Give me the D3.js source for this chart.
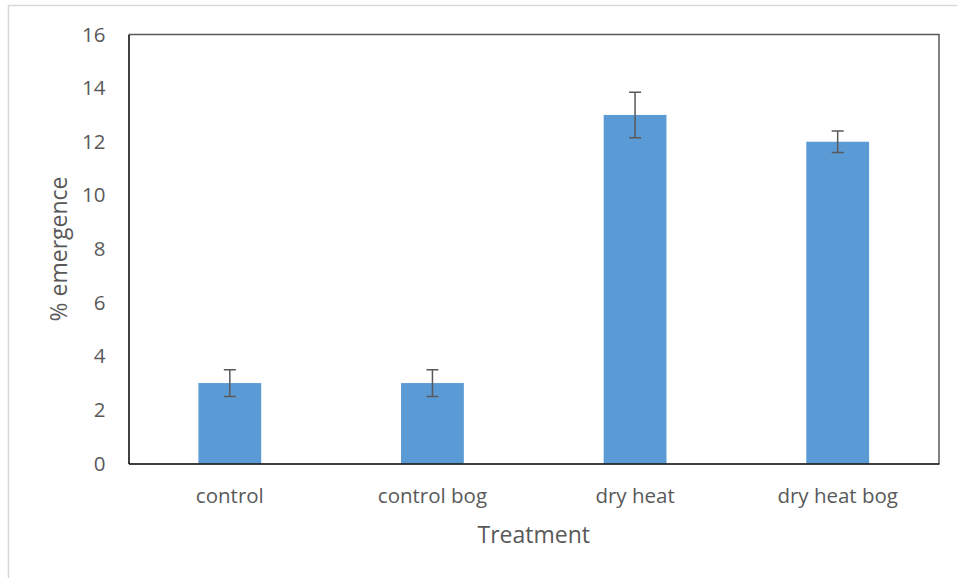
<!DOCTYPE html>
<html>
<head>
<meta charset="utf-8">
<script src="https://cdn.jsdelivr.net/npm/d3@7"></script>
<style>
  body { margin: 0; background: #fff; }
  text { font-family: "Open Sans", sans-serif; fill: #595959; }
</style>
</head>
<body>
<div id="chart"></div>
<script>
/* % emergence by treatment, bars with error bars */

const categories = ["control", "control bog", "dry heat", "dry heat bog"];
const values = [3, 3, 13, 12];
const errors = [0.5, 0.5, 0.85, 0.4];
const yTicks = [0, 2, 4, 6, 8, 10, 12, 14, 16];

const width = 957,
      height = 578,
      margin = ({top: 34.5, right: 18, bottom: 115, left: 128.5});

let svg = d3.select("#chart")
            .append("svg")
            .attr("width", width)
            .attr("height", height);

// outer chart frame
svg.append("rect")
    .attr("x", 8.5).attr("y", 5.5)
    .attr("width", width).attr("height", height)
    .attr("fill", "none")
    .attr("stroke", "#d9d9d9")
    .attr("stroke-width", 1.5);

const x = d3.scaleBand()
            .domain(categories)
            .range([margin.left, width - margin.right])
            .paddingInner(0.69)
            .paddingOuter(0.345);

const y = d3.scaleLinear()
            .domain([0, 16])
            .range([height - margin.bottom + 0.5, margin.top]);

// plot area border (top/right)
svg.append("path")
    .attr("d", `M${margin.left},${margin.top}H${width - margin.right}V${y(0)}`)
    .attr("fill", "none")
    .attr("stroke", "#595959")
    .attr("stroke-width", 1.5);

let bar = svg.selectAll(".bar")
    .data(categories)
    .join("g")
    .attr("class", "bar");

bar.append("rect")
    .attr("fill", "#5b9bd5")
    .attr("x", d => x(d))
    .attr("width", x.bandwidth())
    .attr("y", (d, i) => y(values[i]))
    .attr("height", (d, i) => y(0) - y(values[i]));

// error bars
const cap = 6;
bar.append("path")
    .attr("fill", "none")
    .attr("stroke", "#595959")
    .attr("stroke-width", 1.5)
    .attr("d", (d, i) => {
        const cx = x(d) + x.bandwidth() / 2,
              hi = y(values[i] + errors[i]),
              lo = y(values[i] - errors[i]);
        return `M${cx - cap},${hi}H${cx + cap}M${cx},${hi}V${lo}M${cx - cap},${lo}H${cx + cap}`;
    });

const xAxis = g => g
    .attr("transform", `translate(0,${y(0)})`)
    .call(d3.axisBottom(x).tickSize(0).tickPadding(25))
    .call(g => g.select(".domain").attr("stroke", "#000").attr("stroke-width", 1.5));

const yAxis = g => g
    .attr("transform", `translate(${margin.left},0)`)
    .call(d3.axisLeft(y).tickValues(yTicks).tickSize(0).tickPadding(23))
    .call(g => g.select(".domain").attr("stroke", "#000").attr("stroke-width", 1.5));

svg.append("g").call(xAxis);
svg.append("g").call(yAxis);

svg.selectAll(".tick text")
    .attr("fill", "#595959")
    .style("font-size", "20.5px")
    .style("font-family", "Open Sans, sans-serif");

svg.append("text")
    .attr("x", (margin.left + width - margin.right) / 2)
    .attr("y", 543)
    .attr("text-anchor", "middle")
    .style("font-size", "23px")
    .text("Treatment");

svg.append("text")
    .attr("transform", `translate(67,${(y(0) + margin.top) / 2}) rotate(-90)`)
    .attr("text-anchor", "middle")
    .style("font-size", "23px")
    .text("% emergence");
</script>
</body>
</html>
